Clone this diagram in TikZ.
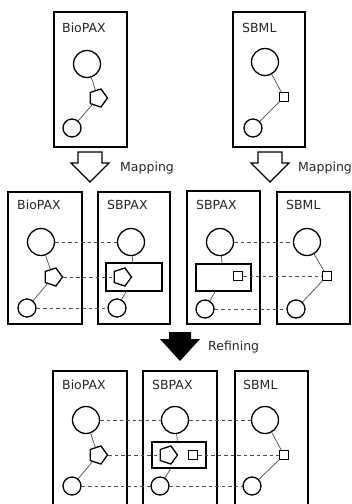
\documentclass[tikz,border=0pt]{standalone}
\usepackage{fontspec}
\setmainfont{DejaVu Sans}
\usepackage{tikz}
\usetikzlibrary{shapes}
\usetikzlibrary{shapes.geometric}

\begin{document}
\begin{tikzpicture}[x=1pt, y=-1pt,
  panel/.style = {draw, line width=1.3pt, inner sep=0pt},
  lbl/.style = {anchor=west, inner sep=0pt, text=black!85, font=\fontsize{12.5}{14}\selectfont},
  bigmol/.style = {circle, draw, line width=1.3pt, inner sep=0pt, minimum size=27pt},
  smallmol/.style = {circle, draw, line width=1.3pt, inner sep=0pt, minimum size=18pt},
  penta/.style = {regular polygon, regular polygon sides=5, shape border rotate=-90, draw, line width=1.3pt, inner sep=0pt, minimum size=19pt},
  sq/.style = {rectangle, draw, line width=1.2pt, inner sep=0pt, minimum size=9pt},
  grp/.style = {rectangle, draw, line width=1.3pt, inner sep=0pt},
  link/.style = {draw=black!70, line width=0.7pt},
  map/.style = {draw=black!70, line width=1pt, dash pattern=on 3.5pt off 3pt}]
  \clip (0,0) rectangle (352,504);
  \fill[white] (0,0) rectangle (352,504);

  % top row
  \node[panel, minimum width=73pt, minimum height=135pt] at (90.5,79.5) (tbio) {};
  \node[panel, minimum width=72pt, minimum height=135pt] at (269,79.5) (tsbml) {};
  \node[lbl] at (62,28) (tbiol) {BioPAX};
  \node[lbl] at (242,28) (tsbmll) {SBML};
  \node[bigmol] at (87,64) (tb1) {};
  \node[penta] at (98,98) (tb2) {};
  \node[smallmol] at (72,128) (tb3) {};
  \node[bigmol] at (265,62) (ts1) {};
  \node[sq] at (284,97) (ts2) {};
  \node[smallmol] at (253,128) (ts3) {};

  % mapping arrows
  \draw[line width=1.3pt, fill=white] (78,152) -- (102,152) -- (102,163) -- (109,163)
    -- (90,182) -- (71,163) -- (78,163) -- cycle;
  \draw[line width=1.3pt, fill=white] (258,152) -- (282,152) -- (282,163) -- (289,163)
    -- (270,182) -- (251,163) -- (258,163) -- cycle;
  \node[lbl] at (120,168) (map1) {Mapping};
  \node[lbl] at (298,168) (map2) {Mapping};

  % middle row
  \node[panel, minimum width=74pt, minimum height=132pt] at (45,258) (mbio) {};
  \node[panel, minimum width=72pt, minimum height=132pt] at (134,258) (msbpa) {};
  \node[panel, minimum width=73pt, minimum height=133pt] at (223.5,257.5) (msbpb) {};
  \node[panel, minimum width=73pt, minimum height=132pt] at (313.5,258) (msbml) {};
  \node[lbl] at (17,205) (mbiol) {BioPAX};
  \node[lbl] at (107,205) (msbpal) {SBPAX};
  \node[lbl] at (196,205) (msbpbl) {SBPAX};
  \node[lbl] at (286,205) (msbmll) {SBML};
  \node[bigmol] at (41,242) (ma1) {};
  \node[penta] at (53,277) (ma2) {};
  \node[smallmol] at (27,308) (ma3) {};
  \node[bigmol] at (131,242) (mb1) {};
  \node[grp, minimum width=56pt, minimum height=28pt] at (134,277) (mbg) {};
  \node[penta] at (122,277) (mb2) {};
  \node[smallmol] at (117,308) (mb3) {};
  \node[bigmol] at (220,242) (mc1) {};
  \node[grp, minimum width=55pt, minimum height=27pt] at (223.5,277.5) (mcg) {};
  \node[sq] at (238,276) (mc2) {};
  \node[smallmol] at (205,309) (mc3) {};
  \node[bigmol] at (307,242) (md1) {};
  \node[sq] at (327,276) (md2) {};
  \node[smallmol] at (296,309) (md3) {};

  % refining arrow
  \fill (169,332) -- (191,332) -- (191,339) -- (200,339) -- (180,361) -- (160,339)
    -- (169,339) -- cycle;
  \node[lbl] at (208,347) (refl) {Refining};

  % bottom row
  \node[panel, minimum width=74pt, minimum height=145pt] at (90,443.5) (bbio) {};
  \node[panel, minimum width=74pt, minimum height=145pt] at (180,443.5) (bsbp) {};
  \node[panel, minimum width=73pt, minimum height=145pt] at (271.5,443.5) (bsbml) {};
  \node[lbl] at (62,385) (bbiol) {BioPAX};
  \node[lbl] at (152,385) (bsbpl) {SBPAX};
  \node[lbl] at (243,385) (bsbmll) {SBML};
  \node[bigmol] at (86,420) (ba1) {};
  \node[penta] at (98,455) (ba2) {};
  \node[smallmol] at (72,486) (ba3) {};
  \node[bigmol] at (175,420) (bb1) {};
  \node[grp, minimum width=54pt, minimum height=26pt] at (179,455) (bbg) {};
  \node[penta] at (168,455) (bb2) {};
  \node[sq] at (193,455) (bbs) {};
  \node[smallmol] at (160,486) (bb3) {};
  \node[bigmol] at (265,420) (bc1) {};
  \node[sq] at (284,455) (bc2) {};
  \node[smallmol] at (252,486) (bc3) {};

  % links inside the panels
  \foreach \a/\b in {tb1/tb2, tb2/tb3, ts1/ts2, ts2/ts3, ma1/ma2, ma2/ma3, mb1/mbg, mbg/mb3,
                     mc1/mcg, mcg/mc3, md1/md2, md2/md3, ba1/ba2, ba2/ba3, bb1/bbg, bbg/bb3,
                     bc1/bc2, bc2/bc3}
  {
  \draw[link] (\a) -- (\b);
  }

  % mappings between the panels
  \foreach \a/\b in {ma1/mb1, ma2/mb2, ma3/mb3, mc1/md1, mc2/md2, mc3/md3, ba1/bb1, bb1/bc1,
                     ba2/bb2, bbs/bc2, ba3/bb3, bb3/bc3}
  {
  \draw[map] (\a) -- (\b);
  }
\end{tikzpicture}
\end{document}
